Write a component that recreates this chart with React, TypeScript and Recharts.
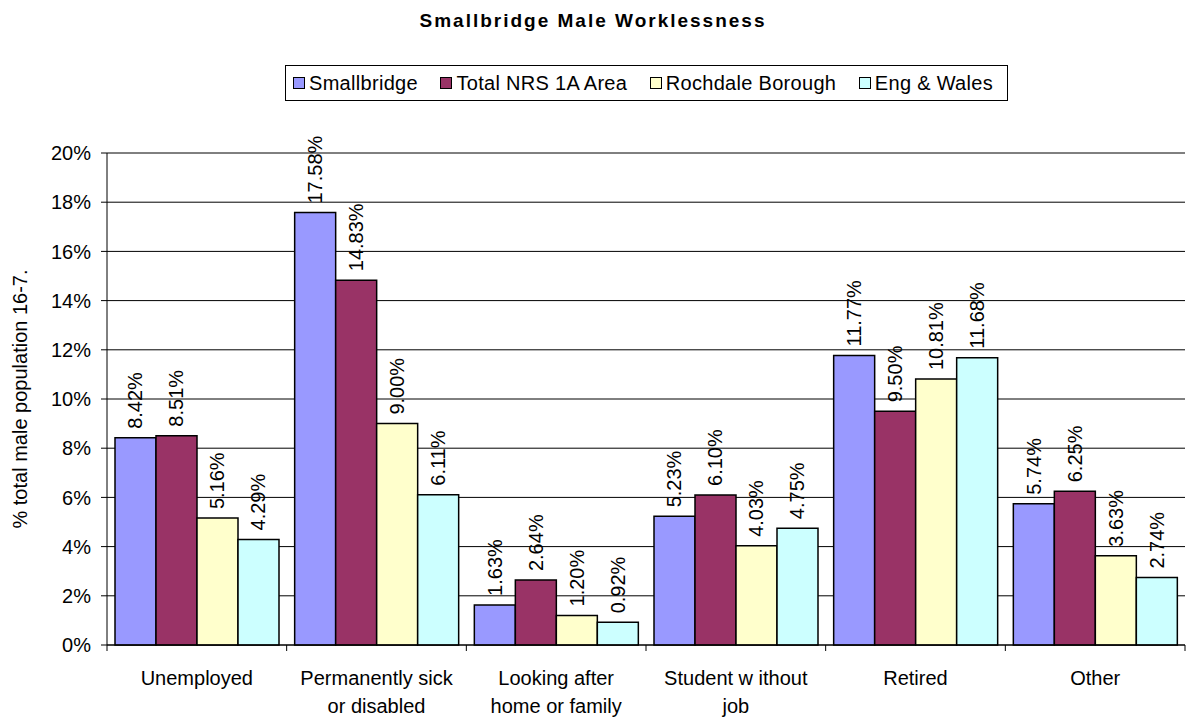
import React from "react"
import {
  BarChart,
  Bar,
  XAxis,
  YAxis,
  CartesianGrid,
  LabelList,
} from "recharts"

const categories = [
  ["Unemployed"],
  ["Permanently sick", "or disabled"],
  ["Looking after", "home or family"],
  ["Student w ithout", "job"],
  ["Retired"],
  ["Other"],
]
const seriesNames = ["Smallbridge", "Total NRS 1A Area", "Rochdale Borough", "Eng & Wales"]
const smallbridge = [8.42, 17.58, 1.63, 5.23, 11.77, 5.74]
const totalNrs = [8.51, 14.83, 2.64, 6.1, 9.5, 6.25]
const rochdale = [5.16, 9.0, 1.2, 4.03, 10.81, 3.63]
const engWales = [4.29, 6.11, 0.92, 4.75, 11.68, 2.74]
const yTicks = [0, 2, 4, 6, 8, 10, 12, 14, 16, 18, 20]

const colors = ["#9999FF", "#993366", "#FFFFCC", "#CCFFFF"]
const keys = ["s0", "s1", "s2", "s3"]
const font = "Arial, 'Liberation Sans', sans-serif"

const data = categories.map((c, i) => ({
  name: c.join(" "),
  lines: c,
  s0: smallbridge[i],
  s1: totalNrs[i],
  s2: rochdale[i],
  s3: engWales[i],
}))

const W = 1186
const H = 720
const margin = { top: 153, right: 1, bottom: 45, left: 47 }
const plotW = W - margin.left - margin.right - 60
const band = plotW / categories.length

function XTick(props: any) {
  const { x, y, payload, index } = props
  const item = data[index] || data.find((d) => d.name === payload.value)
  const lines = item ? item.lines : [payload.value]
  return (
    <g>
      <line x1={x - band / 2} x2={x - band / 2} y1={y} y2={y + 6} stroke="#000" />
      {index === categories.length - 1 && (
        <line x1={x + band / 2} x2={x + band / 2} y1={y} y2={y + 6} stroke="#000" />
      )}
      {lines.map((l: string, j: number) => (
        <text
          key={j}
          x={x}
          y={y + 40 + j * 28}
          textAnchor="middle"
          fontSize={20}
          fontFamily={font}
          fill="#000"
        >
          {l}
        </text>
      ))}
    </g>
  )
}

function ValueLabel(props: any) {
  const { x, y, width, value } = props
  const cx = Number(x) + Number(width) / 2
  const cy = Number(y) - 9
  return (
    <text
      x={cx}
      y={cy}
      transform={`rotate(-90 ${cx} ${cy})`}
      textAnchor="start"
      dominantBaseline="central"
      fontSize={20}
      fontFamily={font}
      fill="#000"
    >
      {Number(value).toFixed(2)}%
    </text>
  )
}

function YLabel() {
  return (
    <text
      x={20}
      y={399}
      transform="rotate(-90 20 399)"
      textAnchor="middle"
      dominantBaseline="central"
      fontSize={20}
      fontFamily={font}
      fill="#000"
    >
      % total male population 16-7.
    </text>
  )
}

export default function App() {
  return (
    <div style={{ position: "absolute", left: 0, top: 0, width: W, height: H, background: "#fff", fontFamily: font }}>
      <div
        style={{
          position: "absolute",
          top: 10,
          left: 0,
          width: W,
          textAlign: "center",
          fontSize: 19,
          fontWeight: "bold",
          letterSpacing: 2,
        }}
      >
        Smallbridge Male Worklessness
      </div>
      <div
        style={{
          position: "absolute",
          top: 65,
          left: 285,
          width: 723,
          height: 36,
          boxSizing: "border-box",
          border: "1px solid #000",
          display: "flex",
          alignItems: "center",
          justifyContent: "space-between",
          padding: "0 14px 0 7px",
          fontSize: 20,
          letterSpacing: 0.3,
        }}
      >
        {seriesNames.map((n, i) => (
          <div key={n} style={{ display: "flex", alignItems: "center" }}>
            <span
              style={{
                display: "inline-block",
                width: 10,
                height: 10,
                background: colors[i],
                border: "1px solid #000",
                marginRight: 4,
              }}
            />
            <span>{n}</span>
          </div>
        ))}
      </div>
      <BarChart
        width={W}
        height={H}
        data={data}
        margin={margin}
        barCategoryGap={8}
        barGap={0}
        style={{ position: "absolute", left: 0, top: 0 }}
      >
        <CartesianGrid vertical={false} stroke="#000" strokeOpacity={1} />
        <XAxis
          dataKey="name"
          interval={0}
          tickLine={false}
          tickSize={0}
          tickMargin={0}
          axisLine={{ stroke: "#000" }}
          tick={<XTick />}
        />
        <YAxis
          width={60}
          domain={[0, 20]}
          ticks={yTicks}
          interval={0}
          tickFormatter={(v: number) => `${v}%`}
          tickSize={6}
          tickMargin={10}
          axisLine={{ stroke: "#000" }}
          tickLine={{ stroke: "#000" }}
          tick={{ fill: "#000", fontSize: 20, fontFamily: font }}
          label={<YLabel />}
        />
        {keys.map((k, i) => (
          <Bar
            key={k}
            dataKey={k}
            name={seriesNames[i]}
            fill={colors[i]}
            stroke="#000"
            strokeWidth={1.5}
            isAnimationActive={false}
          >
            <LabelList dataKey={k} content={<ValueLabel />} />
          </Bar>
        ))}
      </BarChart>
    </div>
  )
}
